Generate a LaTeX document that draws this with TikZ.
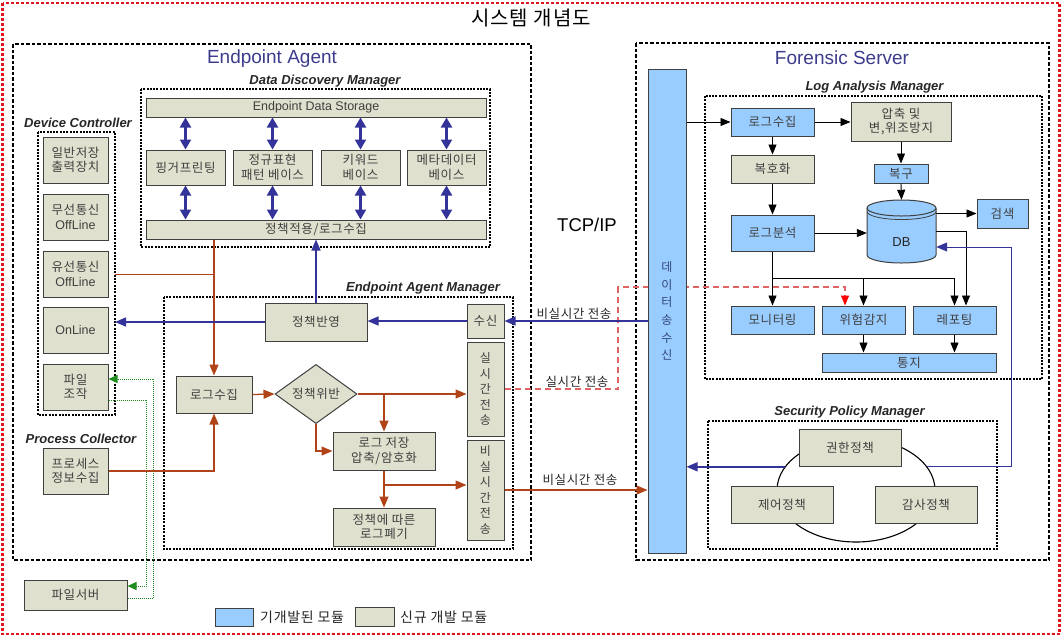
\documentclass[tikz,border=0pt]{standalone}
\usepackage{fontspec}
\setmainfont{Noto Sans CJK KR}[LetterSpace=5]
\newfontfamily\en{Liberation Sans}
\usetikzlibrary{arrows.meta,shapes.geometric}
\definecolor{lblue}{RGB}{153,204,255}
\definecolor{beige}{RGB}{224,224,206}
\definecolor{navy}{RGB}{51,51,153}
\definecolor{orng}{RGB}{176,68,24}
\definecolor{redd}{RGB}{225,20,30}
\definecolor{pinkd}{RGB}{225,100,100}
\definecolor{grn}{RGB}{30,140,30}
\definecolor{ttlblue}{RGB}{60,60,140}
\definecolor{dtxt}{RGB}{50,70,120}
\begin{document}
\begin{tikzpicture}[x=1pt,y=-1pt,
 kb/.style={draw=black!75, line width=1pt, fill=beige, align=center, inner sep=0pt, text=black!75, font=\fontsize{12.5}{14.5}\selectfont},
 bb/.style={kb, fill=lblue},
 wh/.style 2 args={minimum width=#1, minimum height=#2},
 ttl/.style={font=\en\bfseries\itshape\fontsize{13}{15}\selectfont, text=black!85, inner sep=0pt},
 dbox/.style={draw=black, line width=1.1pt, dash pattern=on 2pt off 1.3pt},
 bigbox/.style={draw=black, line width=2.4pt, dash pattern=on 3.5pt off 2pt},
 ka/.style={-{Triangle[length=10pt,width=8pt]}, line width=0.9pt, draw=black},
 oa/.style={-{Triangle[length=11pt,width=9pt]}, line width=1.3pt, draw=orng},
 ol/.style={line width=1pt, draw=orng},
 na/.style={-{Triangle[length=11pt,width=9pt]}, line width=1.4pt, draw=navy},
 dbl/.style={{Triangle[length=10pt,width=11pt]}-{Triangle[length=10pt,width=11pt]}, line width=2.2pt, draw=navy},
 ga/.style={-{Triangle[length=9pt,width=8pt]}, line width=1pt, draw=grn, dash pattern=on 1pt off 1pt},
 lab/.style={font=\fontsize{12.5}{14}\selectfont, text=black!85, inner sep=1pt},
 vt/.style={kb, font=\fontsize{12}{15.5}\selectfont}
]
\useasboundingbox (0,0) rectangle (1062,638);

% outer frame and title
\draw[draw=redd, line width=2.5pt, dash pattern=on 3pt off 2pt] (2.5,3) rectangle (1059.5,634);
\node[font=\fontsize{20}{23}\selectfont] (title) at (531,18) {시스템 개념도};

% big containers
\draw[bigbox] (13,44) rectangle (531,560);
\draw[bigbox] (636,43) rectangle (1049,560);
\node[font=\en\fontsize{19}{22}\selectfont, text=ttlblue] (eat) at (272,59) {Endpoint Agent};
\node[font=\en\fontsize{19}{22}\selectfont, text=ttlblue] (fst) at (842,58) {Forensic Server};
\node[font=\en\fontsize{18.5}{22}\selectfont] (tcp) at (587,225) {TCP/IP};

% ---------- Data Discovery Manager
\draw[dbox] (141,89) rectangle (490,247);
\node[ttl] (ddml) at (325,81) {Data Discovery Manager};
\node[kb, wh={340}{19}, font=\en\fontsize{12.5}{14}\selectfont] (st) at (316,107.5) {Endpoint Data Storage};
\node[kb, wh={79}{35}] (fp) at (185.5,167.5) {핑거프린팅};
\node[kb, wh={79}{35}] (rg) at (272.5,167.5) {정규표현\\패턴 베이스};
\node[kb, wh={79}{35}] (kw) at (360.5,167.5) {키워드\\베이스};
\node[kb, wh={79}{35}] (mt) at (446.5,167.5) {메타데이터\\베이스};
\node[kb, wh={340}{19}] (bar) at (316,229.5) {정책적용/로그수집};
\foreach \n in {fp,rg,kw,mt}{
  \draw[dbl] (\n.north) -- (\n.north |- st.south);
  \draw[dbl] (\n.south) -- (\n.south |- bar.north);
}

% ---------- Device Controller
\draw[dbox] (38,132) rectangle (115,415);
\coordinate (dce) at (115,300);
\node[ttl] (dcl) at (78,123) {Device Controller};
\node[kb, wh={65}{46}] (gen) at (75.5,160) {일반저장\\출력장치};
\node[kb, wh={65}{46}] (wl) at (75.5,217) {무선통신\\{\en OffLine}};
\node[kb, wh={65}{46}] (wd) at (75.5,274) {유선통신\\{\en OffLine}};
\node[kb, wh={65}{46}, font=\en\fontsize{12.5}{14}\selectfont] (on) at (75.5,330) {OnLine};
\node[kb, wh={65}{46}] (fo) at (75.5,387) {파일\\조작};

% ---------- Process Collector
\node[ttl] (pcl) at (81,439) {Process Collector};
\node[kb, wh={65}{46}] (pc) at (75.5,471) {프로세스\\정보수집};

% ---------- File server
\node[kb, wh={103}{30}] (fs) at (75.5,595) {파일서버};
\draw[ga] ([yshift=-13pt]fo.east) -- ++(38,0) |- ([yshift=9pt]fs.east);
\draw[ga] ([yshift=-3pt]fs.east) -- ++(26,0) |- ([yshift=8pt]fo.east);

% ---------- Endpoint Agent Manager
\draw[dbox] (164,297) rectangle (513,549);
\node[ttl] (eaml) at (423,288) {Endpoint Agent Manager};
\node[kb, wh={102}{38}] (pr) at (316,322) {정책반영};
\node[kb, wh={37}{34}] (rx) at (485.5,321) {수신};
\node[vt, wh={37}{94}] (rt) at (485.5,389) {실\\시\\간\\전\\송};
\node[vt, wh={37}{100}] (nrt) at (485.5,490) {비\\실\\시\\간\\전\\송};
\node[kb, wh={76}{37}] (lc) at (214,394.5) {로그수집};
\node[kb, diamond, minimum width=82pt, minimum height=55pt] (dia) at (316,394) {정책위반};
\node[kb, wh={102}{38}] (ls) at (384,451) {로그 저장\\압축/암호화};
\node[kb, wh={102}{38}] (dis) at (384,527) {정책에 따른\\로그폐기};

% orange connectors
\draw[oa] (bar.south -| lc.north) -- (lc.north);
\draw[ol] (wd.east -| dce) -- (wd.east -| lc.north);
\draw[oa] (pc.east) -| (lc.south);
\draw[oa] (lc.east) -- (dia.west);
\draw[oa] (dia.east) -- (dia.east -| rt.west);
\draw[oa] (ls.north |- dia.east) -- (ls.north);
\draw[oa] (dia.south) |- (ls.west);
\draw[oa] (ls.south) -- (dis.north);
\coordinate (j2) at (384,485);
\draw[oa] (j2) -- (j2 -| nrt.west);

% navy connectors in agent
\draw[na] (pr.north) -- (pr.north |- bar.south);
\draw[na] (pr.west) -- (pr.west -| dce);
\draw[na] (rx.west) -- (rx.west -| pr.east);

% ---------- Forensic server: log analysis
\draw[dbox] (705,96) rectangle (1042,379);
\node[ttl] (laml) at (874.5,87) {Log Analysis Manager};
\node[bb, wh={83}{28}] (lcol) at (772.5,122) {로그수집};
\node[kb, wh={100}{39}] (comp) at (901,121.5) {압축 및\\변,위조방지};
\node[kb, wh={83}{28}] (dec) at (772.5,169) {복호화};
\node[bb, wh={54}{19}] (rec) at (901,173.5) {복구};
\node[bb, wh={51}{29}] (srch) at (1002.5,213.5) {검색};
\node[bb, wh={83}{36}] (ana) at (772.5,233) {로그분석};
\node[bb, wh={83}{28}] (mon) at (772.5,320) {모니터링};
\node[bb, wh={83}{28}] (risk) at (863.5,320) {위험감지};
\node[bb, wh={83}{28}] (rep) at (954.5,320) {레포팅};
\node[bb, wh={174}{19}] (noti) at (909,362.5) {통지};

% DB cylinder
\fill[lblue] (867,208) -- (867,255) arc[start angle=180,end angle=360,x radius=34.5pt,y radius=8pt] -- (936,208) arc[start angle=0,end angle=180,x radius=34.5pt,y radius=8pt] -- cycle;
\draw[black!75, line width=1pt] (936,208) -- (936,255) arc[start angle=360,end angle=180,x radius=34.5pt,y radius=8pt] -- (867,208);
\draw[black!75, line width=1pt] (901.5,208) ellipse[x radius=34.5pt, y radius=8pt];
\draw[black!75, line width=0.8pt] (867,211.5) arc[start angle=180,end angle=360,x radius=34.5pt,y radius=8pt];
\node[minimum width=69pt, minimum height=63pt, inner sep=0pt] (db) at (901.5,231.5) {};
\node[font=\en\fontsize{13}{15}\selectfont, text=black!85] (dbt) at (901.5,242) {DB};

% red dashed real-time path (behind data bar)
\coordinate (rj) at (618,287);
\draw[draw=pinkd, line width=1.1pt, dash pattern=on 6pt off 4pt, -{Triangle[length=10pt,width=8pt,color=red]}] (rt.east) -| (rj) -| ([xshift=-18.5pt]risk.north);

% data bar
\node[bb, wh={38}{484}, text=dtxt, font=\fontsize{12}{17.6}\selectfont] (data) at (667,311) {데\\이\\터\\송\\수\\신};

% black connectors
\draw[ka] (data.east |- lcol.west) -- (lcol.west);
\draw[ka] (lcol.east) -- (lcol.east -| comp.west);
\draw[ka] (lcol.south) -- (dec.north);
\draw[ka] (comp.south) -- (rec.north);
\draw[ka] (rec.south) -- (db.north);
\draw[ka] (dec.south) -- (ana.north);
\draw[ka] (ana.east) -- (ana.east -| db.west);
\draw[ka] (srch.west -| db.east) -- (srch.west);
\coordinate (j1) at (772.5,278);
\draw[ka] (ana.south) -- (mon.north);
\draw[ka] (j1) -| (rep.north);
\draw[ka] (risk.north |- j1) -- (risk.north);
\draw[ka] (db.east) -| ([xshift=11.5pt]rep.north);
\draw[ka] (risk.south) -- (risk.south |- noti.north);
\draw[ka] (rep.south) -- (rep.south |- noti.north);

% ---------- Security Policy Manager
\draw[dbox] (708,421) rectangle (997,549);
\node[ttl] (spml) at (849.5,412) {Security Policy Manager};
\node[ellipse, draw=black, line width=1.1pt, minimum width=158pt, minimum height=104pt, inner sep=0pt] (pol) at (856,490) {};
\node[kb, wh={102}{37}] (auth) at (850,447.5) {권한정책};
\node[kb, wh={102}{37}] (ctrl) at (782,504.5) {제어정책};
\node[kb, wh={102}{37}] (aud) at (926,504.5) {감사정책};
\coordinate (sx) at (1011,247);
\draw[na, line width=1pt] (pol.18) -| (sx) -- ([yshift=-15.5pt]db.east);
\draw[na] (pol.162) -- (pol.162 -| data.east);

% transfers between agent and server
\draw[na] (data.west |- rx.east) -- (rx.east);
\draw[oa] (nrt.east) -- (nrt.east -| data.west);
\node[lab] (l1) at (574,314) {비실시간 전송};
\node[lab] (l2) at (577,382) {실시간 전송};
\node[lab] (l3) at (580,480) {비실시간 전송};

% legend
\node[bb, wh={38}{18}] (lg1) at (234,617) {};
\node[lab, anchor=west, font=\fontsize{14}{16}\selectfont] (lg1t) at (259,617) {기개발된 모듈};
\node[kb, wh={39}{19}] (lg2) at (374.5,616.5) {};
\node[lab, anchor=west, font=\fontsize{14}{16}\selectfont] (lg2t) at (399,617) {신규 개발 모듈};
\end{tikzpicture}
\end{document}
